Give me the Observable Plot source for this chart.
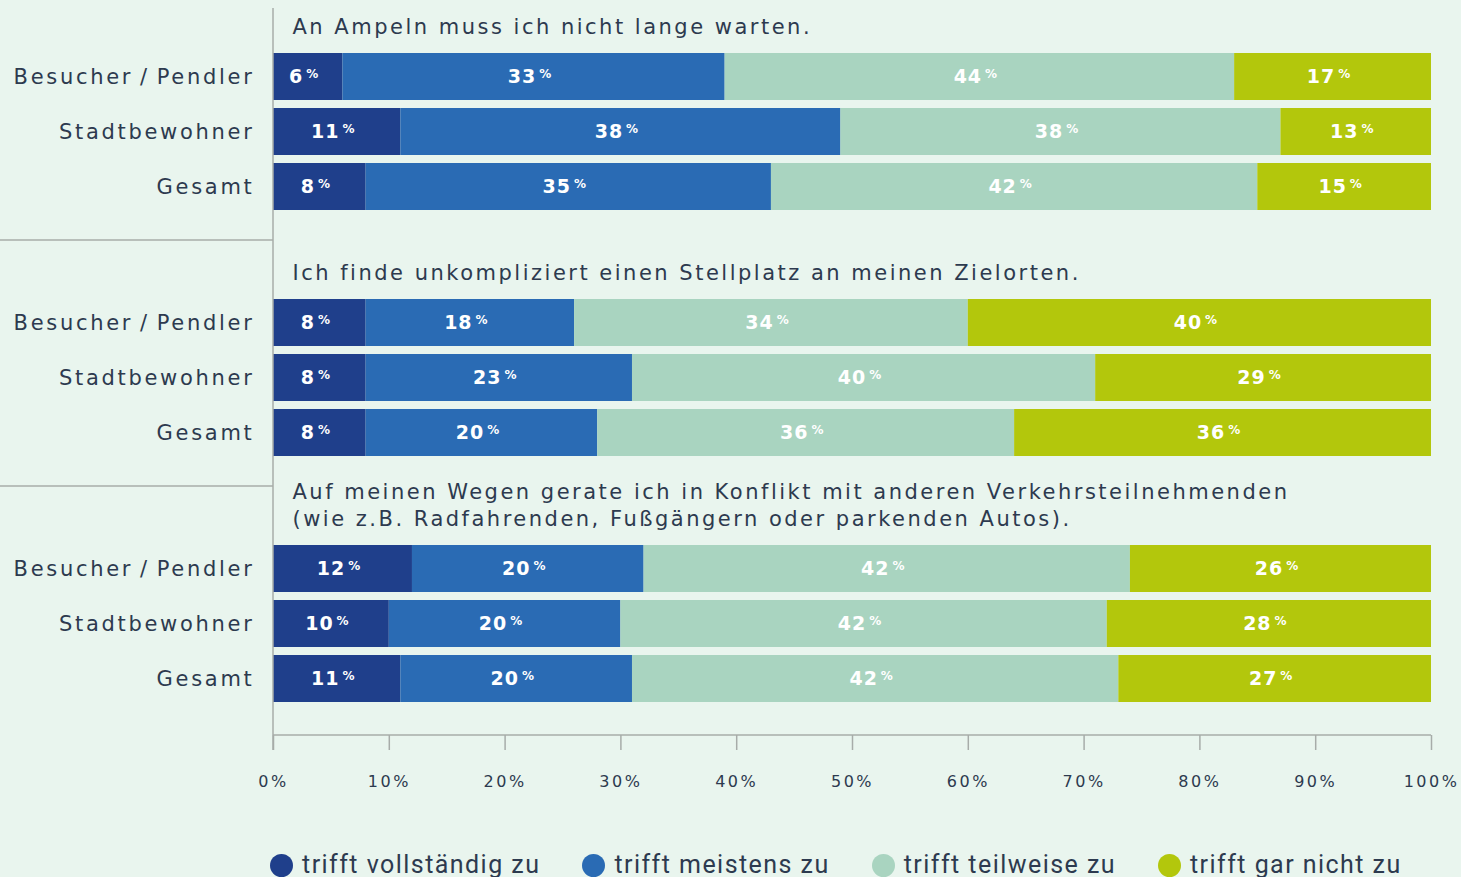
<!DOCTYPE html>
<html><head><meta charset="utf-8">
<script src="https://cdn.jsdelivr.net/npm/d3@7"></script>
<script src="https://cdn.jsdelivr.net/npm/@observablehq/plot@0.6"></script>
<style>
html,body{margin:0;padding:0;background:#e9f5ee;}
body{width:1461px;height:877px;overflow:hidden;position:relative;}
#chart{position:absolute;left:0;top:0;}
#legend{position:absolute;left:270px;top:852px;height:26px;display:flex;align-items:center;font-family:"Roboto",sans-serif;font-size:25px;letter-spacing:1.45px;color:#2d3a4f;white-space:nowrap;}
#legend .item{display:flex;align-items:center;margin-right:42px;line-height:26px;}
#legend .dot{width:23px;height:23px;border-radius:50%;margin-right:9px;flex:none;}
</style></head>
<body><div id="chart"></div><div id="legend"></div>
<script>
const statements = [
  "An Ampeln muss ich nicht lange warten.",
  "Ich finde unkompliziert einen Stellplatz an meinen Zielorten.",
  "Auf meinen Wegen gerate ich in Konflikt mit anderen Verkehrsteilnehmenden\n(wie z.B. Radfahrenden, Fußgängern oder parkenden Autos)."
];
const respondents = ["Besucher\u2009/\u2009Pendler", "Stadtbewohner", "Gesamt"];
const answers = ["trifft vollständig zu", "trifft meistens zu", "trifft teilweise zu", "trifft gar nicht zu"];
const answerColors = ["#1f3f8b", "#2a6bb4", "#a9d4c0", "#b3c70c"];
const ampelnValues = [[6, 33, 44, 17], [11, 38, 38, 13], [8, 35, 42, 15]];
const stellplatzValues = [[8, 18, 34, 40], [8, 23, 40, 29], [8, 20, 36, 36]];
const konfliktValues = [[12, 20, 42, 26], [10, 20, 42, 28], [11, 20, 42, 27]];
const xTicks = [0, 10, 20, 30, 40, 50, 60, 70, 80, 90, 100];

const valueSets = [ampelnValues, stellplatzValues, konfliktValues];
const rows = [];
statements.forEach((s, gi) => {
  respondents.forEach((r, ri) => {
    answers.forEach((a, ai) => {
      rows.push({group: s, resp: r, answer: a, value: valueSets[gi][ri][ai]});
    });
  });
});

const textColor = "#2d3a4f";
const plot = Plot.plot({
  width: 1461,
  height: 820,
  marginLeft: 273,
  marginRight: 30,
  marginTop: 49,
  marginBottom: 113,
  x: {domain: [0, 100], axis: null},
  y: {domain: respondents, paddingInner: 0.15, paddingOuter: 0.05, axis: null},
  fy: {domain: statements, paddingInner: 0.336, paddingOuter: 0, axis: null},
  color: {domain: answers, range: answerColors},
  style: {background: "transparent", color: textColor, fontFamily: "DejaVu Sans", overflow: "visible"},
  marks: [
    Plot.barX(rows, Plot.stackX({x: "value", y: "resp", fy: "group", fill: "answer", z: "answer"})),
    Plot.text(rows, Plot.stackX({x: "value", y: "resp", fy: "group", z: "answer", text: d => String(d.value),
      fill: "white", fontWeight: "bold", fontSize: 19, dx: -4, ariaDescription: "values"})),
    Plot.axisY({tickSize: 0, tickPadding: 19, fontSize: 21, color: textColor, label: null, ariaDescription: "yaxis"}),
    Plot.axisX({ticks: xTicks, tickFormat: d => d + "%", tickSize: 15, tickPadding: 25, dy: 30, fontSize: 16,
      stroke: "#a7aca9", strokeWidth: 1.5, color: textColor, label: null, ariaDescription: "xaxis"}),
    Plot.text(statements, {fy: d => d, text: d => d, frameAnchor: "top-left", textAnchor: "start",
      lineAnchor: "bottom", dx: 19, dy: -17, fontSize: 21, lineHeight: 1.24, fill: textColor, ariaDescription: "titles"})
  ]
});
document.getElementById("chart").appendChild(plot);

const svg = d3.select(plot);
// percent sign as a small superscript inside each value label
svg.selectAll('g[aria-description="values"] text').each(function() {
  d3.select(this).append("tspan").attr("font-size", 12).attr("dy", -5).attr("dx", 3).text("%");
});
svg.selectAll('g[aria-description="values"] text').style("letter-spacing", "1px");
svg.selectAll('g[aria-description="yaxis"] text').style("letter-spacing", "2.7px");
svg.selectAll('g[aria-description="xaxis"] text').style("letter-spacing", "2.5px");
svg.selectAll('g[aria-description="titles"] text').style("letter-spacing", "2.5px");

// frame lines: vertical axis line, baseline, group separators
const xs = plot.scale("x"), fys = plot.scale("fy");
const x0 = xs.apply(0), x100 = xs.apply(100);
const bw = fys.bandwidth;
const lineColor = "#a7aca9";
const gl = svg.append("g").attr("stroke", lineColor).attr("stroke-width", 1.5);
const lastBottom = fys.apply(statements[2]) + bw;
gl.append("line").attr("x1", x0).attr("x2", x0).attr("y1", 8).attr("y2", lastBottom + 45);
gl.append("line").attr("x1", x0).attr("x2", x100).attr("y1", lastBottom + 30).attr("y2", lastBottom + 30);
statements.slice(1).forEach(s => {
  const yy = fys.apply(s) - 56;
  gl.append("line").attr("x1", 0).attr("x2", x0).attr("y1", yy).attr("y2", yy);
});

// legend
const legend = d3.select("#legend");
answers.forEach((a, i) => {
  const it = legend.append("div").attr("class", "item");
  it.append("div").attr("class", "dot").style("background", answerColors[i]);
  it.append("span").text(a);
});
</script>
</body></html>
